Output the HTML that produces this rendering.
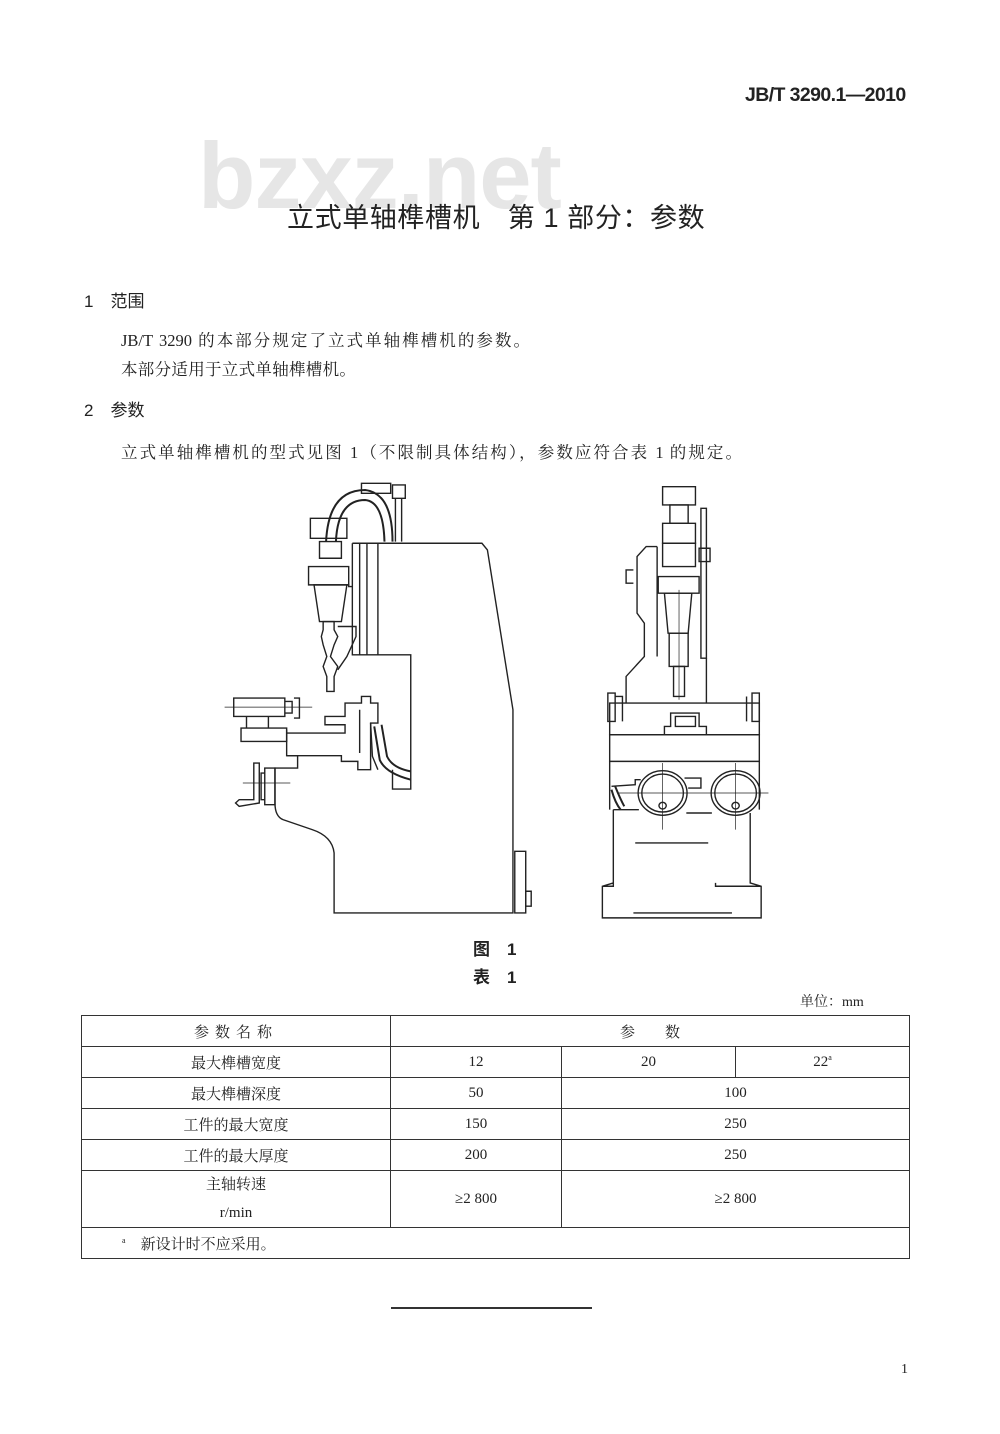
<!DOCTYPE html>
<html><head><meta charset="utf-8">
<style>
html,body{margin:0;padding:0;background:#fff;}
body{width:1000px;height:1434px;position:relative;overflow:hidden;font-family:"Liberation Serif","Noto Serif CJK SC","Noto Sans CJK SC",serif;color:#222;}
.a{position:absolute;white-space:nowrap;}
.j{position:absolute;white-space:nowrap;text-align:justify;text-align-last:justify;}
.sans{font-family:"Liberation Sans","Noto Sans CJK SC",sans-serif;}
table{position:absolute;left:81px;top:1015px;width:829px;border-collapse:collapse;font-size:15px;}
td{border:1.5px solid #333;text-align:center;padding:0;}
</style></head><body>
<div class="a sans" style="left:745px;top:84px;font-size:19.5px;font-weight:bold;letter-spacing:-0.6px;">JB/T 3290.1—2010</div>
<div class="a sans" style="left:198px;top:122px;font-size:94px;font-weight:bold;color:#e6e6e6;letter-spacing:-1px;">bzxz.net</div>
<div class="a sans" style="left:287px;top:196px;font-size:27px;letter-spacing:0.6px;color:#222;">立式单轴榫槽机　第 1 部分：参数</div>
<div class="a sans" style="left:84px;top:287px;font-size:17px;">1　范围</div>
<div class="j" style="left:121px;top:327px;width:409px;font-size:16.5px;">JB/T 3290 的本部分规定了立式单轴榫槽机的参数。</div>
<div class="a" style="left:121px;top:356px;font-size:16.5px;letter-spacing:0.3px;">本部分适用于立式单轴榫槽机。</div>
<div class="a sans" style="left:84px;top:396px;font-size:17px;">2　参数</div>
<div class="j" style="left:121px;top:439px;width:621px;font-size:16.5px;">立式单轴榫槽机的型式见图 1（不限制具体结构），参数应符合表 1 的规定。</div>

<svg class="a" style="left:0;top:0" width="1000" height="1434">
<g transform="translate(210,470) scale(0.365,0.333)" fill="none" stroke="#222" stroke-width="1.4">
<path vector-effect="non-scaling-stroke" d="M390,220 L745,220 L760,240 L830,720 L830,1330 L340,1330 L340,1150 Q335,1100 280,1080 L200,1050 Q178,1040 178,1000 L178,895 L240,895 L240,858 L210,858"/>
<path vector-effect="non-scaling-stroke" d="M390,220 L390,555 L550,555 L550,958 L500,958 L500,900"/>
<path vector-effect="non-scaling-stroke" d="M410,220 L410,555 M430,220 L430,555 M460,220 L460,555"/>
<rect vector-effect="non-scaling-stroke" x="275" y="145" width="100" height="60"/>
<rect vector-effect="non-scaling-stroke" x="300" y="215" width="60" height="50"/>
<rect vector-effect="non-scaling-stroke" x="270" y="290" width="110" height="55"/>
<path vector-effect="non-scaling-stroke" d="M375,345 L380,345 L380,350 L390,350 M285,345 L375,345 L360,455 L300,455 Z"/>
<path vector-effect="non-scaling-stroke" d="M310,455 L340,455 L340,480 L350,500 L340,525 L330,560 L350,590 L340,620 L340,665 L320,665 L320,620 L310,590 L320,560 L310,525 L305,500 L310,480 Z"/>
<path vector-effect="non-scaling-stroke" d="M350,470 L400,470 L400,500 L375,560 L350,600"/>
<path vector-effect="non-scaling-stroke" stroke-width="2" d="M318,215 Q325,60 425,60 Q500,70 500,215 M345,215 Q350,90 425,90 Q475,95 478,215"/>
<rect vector-effect="non-scaling-stroke" x="415" y="40" width="80" height="30"/>
<rect vector-effect="non-scaling-stroke" x="500" y="45" width="35" height="40"/>
<path vector-effect="non-scaling-stroke" d="M508,85 L508,215 M525,85 L525,215"/>
<rect vector-effect="non-scaling-stroke" x="65" y="685" width="140" height="55"/>
<path vector-effect="non-scaling-stroke" d="M205,695 L225,695 L225,730 L205,730 M230,685 L245,685 L245,745 L230,745"/>
<path vector-effect="non-scaling-stroke" stroke-width="0.7" d="M40,712 L280,712"/>
<rect vector-effect="non-scaling-stroke" x="85" y="775" width="125" height="40"/>
<path vector-effect="non-scaling-stroke" d="M100,740 L100,775 M160,740 L160,775"/>
<path vector-effect="non-scaling-stroke" d="M210,780 L210,858 L360,858 L360,875 L405,875 L405,900 L440,900 L440,760 L460,760 L460,700 L440,700 L440,680 L415,680 L415,700 L370,700 L370,740 L315,740 L315,765 L370,765 L370,790 L210,790"/>
<path vector-effect="non-scaling-stroke" d="M410,720 L410,850 M440,760 L445,860 L460,900"/>
<path vector-effect="non-scaling-stroke" stroke-width="2" d="M450,770 L465,870 Q480,910 550,930 M470,765 L485,860 Q500,895 550,905"/>
<path vector-effect="non-scaling-stroke" d="M150,895 L178,895 L178,1005 L150,1005 Z M140,910 L150,910 L150,990 L140,990 Z"/>
<path vector-effect="non-scaling-stroke" d="M120,880 L135,880 L135,1000 L80,1010 L70,1000 L80,990 L120,990 Z"/>
<path vector-effect="non-scaling-stroke" stroke-width="0.7" d="M90,940 L220,940"/>
<rect vector-effect="non-scaling-stroke" x="835" y="1145" width="30" height="185"/>
<rect vector-effect="non-scaling-stroke" x="865" y="1265" width="15" height="45"/>
<rect vector-effect="non-scaling-stroke" x="1240" y="50" width="90" height="55"/>
<rect vector-effect="non-scaling-stroke" x="1260" y="105" width="50" height="55"/>
<rect vector-effect="non-scaling-stroke" x="1240" y="160" width="90" height="60"/>
<rect vector-effect="non-scaling-stroke" x="1240" y="220" width="90" height="70"/>
<rect vector-effect="non-scaling-stroke" x="1228" y="320" width="112" height="50"/>
<path vector-effect="non-scaling-stroke" d="M1245,370 L1320,370 L1310,490 L1255,490 Z"/>
<rect vector-effect="non-scaling-stroke" x="1258" y="490" width="52" height="100"/>
<rect vector-effect="non-scaling-stroke" x="1270" y="590" width="30" height="90"/>
<path vector-effect="non-scaling-stroke" d="M1225,230 L1195,230 L1170,260 L1170,430 L1190,460 L1190,560 L1140,620 L1140,700 M1225,230 L1225,560 M1160,300 L1140,300 L1140,340 L1160,340"/>
<rect vector-effect="non-scaling-stroke" x="1345" y="115" width="15" height="450"/>
<rect vector-effect="non-scaling-stroke" x="1340" y="235" width="30" height="40"/>
<path vector-effect="non-scaling-stroke" d="M1360,565 L1360,700"/>
<rect vector-effect="non-scaling-stroke" x="1095" y="700" width="410" height="95"/>
<path vector-effect="non-scaling-stroke" d="M1090,670 L1110,670 L1110,755 L1090,755 Z M1110,680 L1130,680 L1130,755 M1485,670 L1505,670 L1505,755 L1485,755 Z M1470,680 L1470,755"/>
<path vector-effect="non-scaling-stroke" d="M1245,795 L1245,770 L1262,770 L1262,730 L1340,730 L1340,770 L1360,770 L1360,795 M1275,740 L1330,740 L1330,770 L1275,770 Z"/>
<rect vector-effect="non-scaling-stroke" x="1095" y="795" width="410" height="80"/>
<path vector-effect="non-scaling-stroke" d="M1095,875 L1095,1020 M1505,875 L1505,1020"/>
<circle vector-effect="non-scaling-stroke" cx="1240" cy="970" r="67"/>
<circle vector-effect="non-scaling-stroke" cx="1240" cy="970" r="57"/>
<circle vector-effect="non-scaling-stroke" cx="1440" cy="970" r="67"/>
<circle vector-effect="non-scaling-stroke" cx="1440" cy="970" r="57"/>
<circle vector-effect="non-scaling-stroke" cx="1240" cy="1008" r="10"/>
<circle vector-effect="non-scaling-stroke" cx="1440" cy="1008" r="10"/>
<path vector-effect="non-scaling-stroke" stroke-width="0.7" d="M1120,970 L1530,970 M1240,880 L1240,1080 M1440,880 L1440,1080 M1285,360 L1285,690"/>
<path vector-effect="non-scaling-stroke" d="M1105,1020 L1105,1240 L1075,1250 L1075,1345 L1510,1345 L1510,1250 L1480,1240 L1480,1030 M1105,1020 L1175,1020 M1305,1030 L1375,1030 M1165,1120 L1365,1120 M1385,1240 L1385,1250 L1510,1250 M1105,1240 L1105,1250 L1075,1250 M1160,1330 L1430,1330"/>
<path vector-effect="non-scaling-stroke" stroke-width="2" d="M1100,960 Q1110,1000 1125,1020 M1110,950 Q1125,990 1135,1010"/>
<path vector-effect="non-scaling-stroke" d="M1100,950 L1165,945 L1165,930 L1180,930 M1300,925 L1345,925 L1345,955 L1310,955"/>
</g>
</svg>

<div class="a sans" style="left:473px;top:935px;font-size:17px;font-weight:bold;">图　1</div>
<div class="a sans" style="left:473px;top:963px;font-size:17px;font-weight:bold;">表　1</div>
<div class="a" style="left:800px;top:991px;font-size:14px;">单位：mm</div>

<table>
<tr style="height:31px"><td style="width:308px;letter-spacing:6px;">参数名称</td><td colspan="3">参　　数</td></tr>
<tr style="height:31px"><td>最大榫槽宽度</td><td style="width:170px">12</td><td style="width:173px">20</td><td>22<sup style="font-size:8px">a</sup></td></tr>
<tr style="height:31px"><td>最大榫槽深度</td><td>50</td><td colspan="2">100</td></tr>
<tr style="height:31px"><td>工件的最大宽度</td><td>150</td><td colspan="2">250</td></tr>
<tr style="height:31px"><td>工件的最大厚度</td><td>200</td><td colspan="2">250</td></tr>
<tr style="height:57px"><td style="line-height:28px">主轴转速<br>r/min</td><td>≥2 800</td><td colspan="2">≥2 800</td></tr>
<tr style="height:31px"><td colspan="4" style="text-align:left;padding-left:40px;"><sup style="font-size:8px">a</sup>　新设计时不应采用。</td></tr>
</table>

<div class="a" style="left:391px;top:1307px;width:201px;height:2px;background:#333;"></div>
<div class="a" style="left:901px;top:1362px;font-size:14px;">1</div>
</body></html>
